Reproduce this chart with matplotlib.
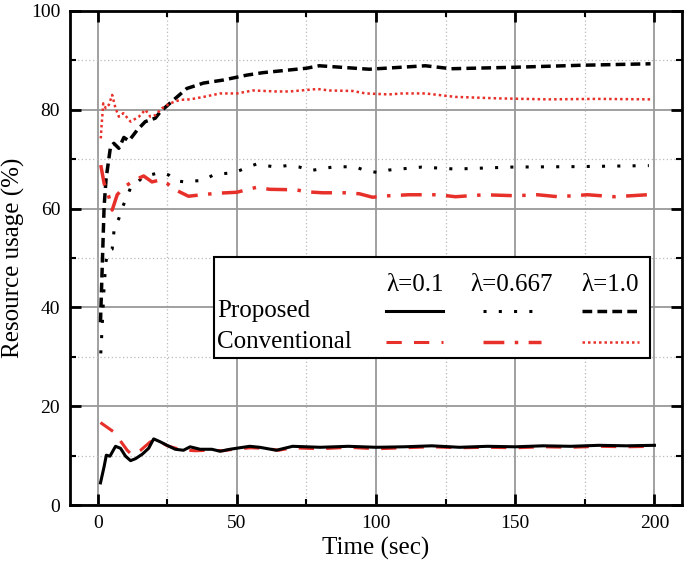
import matplotlib.pyplot as plt
from matplotlib.patches import Rectangle
from matplotlib.lines import Line2D
from matplotlib.ticker import MultipleLocator

plt.rcParams['font.family'] = ['Liberation Serif', 'DejaVu Serif']

# Proposed, lambda = 0.1 (black solid)
t_p01 = [1, 2.3, 3.1, 4.4, 6.4, 8.2, 10, 11.8, 13.6, 16, 18.3, 20.1, 22.5, 24.9, 27.9, 30.8,
         33.2, 36.8, 41, 44, 47.5, 51, 54.6, 58.2, 64.2, 70, 80, 90, 100, 110, 120, 130,
         140, 150, 160, 170, 180, 190, 200]
u_p01 = [4.5, 7.8, 10.1, 9.9, 11.9, 11.5, 9.9, 9.0, 9.4, 10.3, 11.5, 13.4, 12.8, 12.1, 11.3, 11.1,
         11.8, 11.3, 11.3, 10.9, 11.3, 11.6, 11.9, 11.7, 11.1, 11.9, 11.7, 11.9, 11.7, 11.8, 12.0, 11.7,
         11.9, 11.8, 12.0, 11.9, 12.1, 12.0, 12.1]

# Conventional, lambda = 0.1 (red dashed)
t_c01 = [1, 5.8, 10.6, 12.4, 15.4, 18.9, 21.3, 25, 30, 35, 40, 45, 50, 55, 60, 65, 70,
         80, 90, 100, 110, 120, 130, 140, 150, 160, 170, 180, 190, 200]
u_c01 = [16.7, 14.8, 11.1, 10.1, 11.1, 12.8, 13.2, 12.0, 11.2, 11.0, 11.1, 11.0, 11.4, 11.6, 11.5, 11.1, 11.6,
         11.4, 11.7, 11.4, 11.6, 11.8, 11.6, 11.7, 11.6, 11.8, 11.7, 11.9, 11.8, 11.9]

# Proposed, lambda = 0.667 (black dotted)
t_p067 = [1.1, 1.5, 2.3, 2.9, 3.5, 5.2, 6, 7.6, 9, 10.8, 12.1, 13.6, 16.5, 22.5, 25.5, 28.2,
          31.4, 35, 38, 41.8, 45.7, 49.3, 53.5, 57, 64, 68, 72.5, 76.4, 80, 84.3, 92, 96.3,
          100.5, 104.6, 112.4, 116.4, 128.5, 148.6, 173.6, 198]
u_p067 = [30.7, 35, 44.2, 48.9, 51.3, 51.8, 56.3, 58, 60.4, 62.8, 64.6, 65, 66.5, 67.3, 66.8, 65.6,
          65.4, 65.6, 65.7, 66.9, 67.1, 67.3, 68.3, 69, 68.4, 68.7, 68.4, 67.7, 68, 68.4, 68.5, 67.7,
          67.3, 67.8, 68.2, 68.4, 68.0, 68.4, 68.5, 68.7]

# Conventional, lambda = 0.667 (red dash-dot)
t_c067 = [1.1, 2.3, 4, 5.2, 7, 9.4, 13, 16.5, 19.5, 22.5, 24.9, 27.9, 32.6, 37.4, 42.7, 49.9,
          57, 61.8, 71.3, 74.9, 80.8, 89.2, 94, 98.7, 104.6, 111.8, 122.5, 128.5, 139, 150,
          158, 165.4, 176, 185.6, 197.5]
u_c067 = [68.8, 65.1, 62.4, 59.7, 62.8, 64.3, 65.7, 66.6, 65.4, 65.8, 65.1, 63.8, 62.5, 62.8, 63.1, 63.3,
          64.3, 63.9, 63.8, 63.4, 63.2, 63.2, 63.0, 62.3, 62.6, 62.8, 62.8, 62.4, 62.8, 62.6,
          62.8, 62.4, 62.8, 62.4, 62.8]

# Proposed, lambda = 1.0 (black dashed)
t_p10 = [1, 1.7, 2.3, 3, 4.6, 5.8, 7.6, 9.4, 11.2, 14.2, 17.1, 20.7, 22.5, 27.3, 32, 38, 45,
         53.5, 59.3, 75, 79.6, 97.5, 117.7, 127, 150, 173.6, 198.6]
u_p10 = [37, 49.6, 60.4, 66, 72.5, 73.2, 72.2, 74.4, 73.7, 75.9, 77.6, 78.3, 79.6, 82, 84.3, 85.4, 86,
         87, 87.5, 88.4, 88.9, 88.2, 88.9, 88.3, 88.6, 89.0, 89.3]

# Conventional, lambda = 1.0 (red dotted)
t_c10 = [1.1, 1.4, 2, 2.9, 4, 5.2, 6.4, 7.6, 9.2, 11.8, 14.8, 17.1, 18.9, 20.7, 23.1, 26, 29.6,
         33.2, 38, 44, 50, 55.8, 64.2, 69, 79, 83.2, 91.5, 96.3, 104.6, 109.4, 117.7, 128.5,
         144, 161.8, 179.6, 198.7]
u_c10 = [74.2, 76.9, 81.3, 80.3, 81, 83, 80.3, 78.6, 79.3, 77.6, 78.6, 80, 78.6, 78.9, 80.3, 81.3, 82,
         82.1, 82.6, 83.3, 83.3, 83.9, 83.7, 83.7, 84.2, 83.9, 83.8, 83.3, 83.1, 83.3, 83.3, 82.6,
         82.3, 82.1, 82.2, 82.1]

col_labels = ['\u03bb=0.1', '\u03bb=0.667', '\u03bb=1.0']
row_labels = ['Proposed', 'Conventional']

RED = '#e8302a'
styles = {
    'p01': dict(color='black', linestyle='-', linewidth=2.2),
    'c01': dict(color=RED, linestyle=(0, (5, 4)), linewidth=2.2),
    'p067': dict(color='black', linestyle=(0, (1, 4)), linewidth=2.2),
    'c067': dict(color=RED, linestyle=(0, (6, 3, 1, 3)), linewidth=2.5),
    'p10': dict(color='black', linestyle=(0, (2.8, 1.5)), linewidth=2.5),
    'c10': dict(color=RED, linestyle=(0, (1, 1.2)), linewidth=1.8),
}

fig = plt.figure(figsize=(6.85, 5.74), dpi=100)
ax = fig.add_axes([0.102, 0.120, 0.894, 0.861])

ax.plot(t_p10, u_p10, **styles['p10'])
ax.plot(t_c10, u_c10, **styles['c10'])
ax.plot(t_p067, u_p067, **styles['p067'])
ax.plot(t_c067, u_c067, **styles['c067'])
ax.plot(t_c01, u_c01, **styles['c01'])
ax.plot(t_p01, u_p01, **styles['p01'])

ax.set_xlim(-10, 210)
ax.set_ylim(0, 100)
ax.xaxis.set_major_locator(MultipleLocator(50))
ax.xaxis.set_minor_locator(MultipleLocator(25))
ax.yaxis.set_major_locator(MultipleLocator(20))
ax.yaxis.set_minor_locator(MultipleLocator(10))
ax.grid(which='major', color='#999999', linewidth=1.3, linestyle='-')
ax.grid(which='minor', color='#bbbbbb', linewidth=0.9, linestyle=(0, (1, 2)))
ax.set_axisbelow(True)
ax.tick_params(which='major', direction='in', length=8, width=2, top=True, right=True,
               labelsize=14, pad=7)
ax.tick_params(which='minor', direction='in', length=4, width=1.5, top=True, right=True)
for s in ax.spines.values():
    s.set_linewidth(2)

ax.set_xlabel('Time (sec)', fontsize=18)
ax.set_ylabel('Resource usage (%)', fontsize=18)

# table-style legend
x0, y0, x1, y1 = 0.235, 0.298, 0.948, 0.502
ax.add_patch(Rectangle((x0, y0), x1 - x0, y1 - y0, transform=ax.transAxes,
                       facecolor='white', edgecolor='black', linewidth=1.5, zorder=5))
col_x = [0.563, 0.722, 0.883]
row_y = [0.392, 0.330]
ax.text(0.24, row_y[0], row_labels[0], transform=ax.transAxes, fontsize=18, va='center', zorder=6)
ax.text(0.24, row_y[1], row_labels[1], transform=ax.transAxes, fontsize=18, va='center', zorder=6)
for cx, lab in zip(col_x, col_labels):
    ax.text(cx, 0.446, lab, transform=ax.transAxes, fontsize=18, ha='center', va='center', zorder=6)
keys = [['p01', 'p067', 'p10'], ['c01', 'c067', 'c10']]
for r, ry in enumerate(row_y):
    for cx, k in zip(col_x, keys[r]):
        ax.add_line(Line2D([cx - 0.047, cx + 0.047], [ry, ry], transform=ax.transAxes,
                           zorder=6, **styles[k]))

fig.savefig('out.png', dpi=100)
